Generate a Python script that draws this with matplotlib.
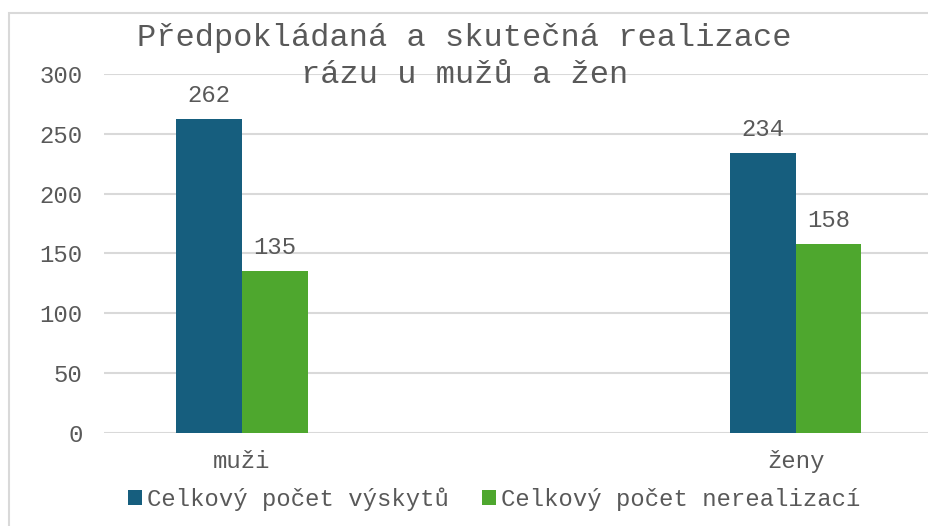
import matplotlib
matplotlib.use("Agg")
import matplotlib.pyplot as plt
from matplotlib.patches import Rectangle
import numpy as np

# data
categories = ["muži", "ženy"]
series_names = ["Celkový počet výskytů", "Celkový počet nerealizací"]
vyskyty = [262, 234]
nerealizace = [135, 158]
y_ticks = [0, 50, 100, 150, 200, 250, 300]
title_lines = ["Předpokládaná a skutečná realizace", "rázu u mužů a žen"]

colors = ["#165e7e", "#4ea72e"]
text_color = "#595959"
grid_color = "#d9d9d9"
fs = 17.2

plt.rcParams["font.family"] = ["Liberation Mono", "DejaVu Sans Mono"]

W, H = 929, 526
fig = plt.figure(figsize=(W / 100, H / 100), dpi=100)

# chart border (right and bottom fall outside the picture)
fig.patches.append(Rectangle((9 / W, -0.1), 1.2, 1 - 13 / H + 0.1,
                             transform=fig.transFigure, fill=False,
                             edgecolor="#d9d9d9", linewidth=1.5))

ax = fig.add_axes([104 / W, 1 - 433 / H, 825 / W, 359 / H])

x = np.arange(len(categories))
bw = 0.119
b1 = ax.bar(x - bw / 2, vyskyty, bw, color=colors[0], label=series_names[0], zorder=3)
b2 = ax.bar(x + bw / 2, nerealizace, bw, color=colors[1], label=series_names[1], zorder=3)

for bars in (b1, b2):
    for rect in bars:
        h = rect.get_height()
        ax.annotate(str(h), (rect.get_x() + rect.get_width() / 2, h),
                    xytext=(0, 17), textcoords="offset points",
                    ha="center", va="center", fontsize=fs, color=text_color)

ax.set_xlim(-0.2493, 1.241)
ax.set_ylim(0, 300)
ax.set_yticks(y_ticks)
ax.set_xticks(x)
ax.set_xticklabels(categories)
ax.tick_params(axis="both", length=0, labelsize=fs, colors=text_color)
ax.tick_params(axis="y", pad=15.5)
ax.tick_params(axis="x", pad=12)
ax.grid(axis="y", color=grid_color, linewidth=1.5, zorder=0)
for s in ax.spines.values():
    s.set_visible(False)

# title, one text per line
for line, ypix in zip(title_lines, [38, 75]):
    fig.text(464.5 / W, 1 - ypix / H, line, ha="center", va="center",
             fontsize=23, color=text_color)

fig.legend(loc="center", bbox_to_anchor=(494 / W, 1 - 499 / H), ncol=2,
           frameon=False, fontsize=fs, labelcolor=text_color,
           handlelength=0.6, handleheight=0.6, handletextpad=0.2,
           columnspacing=1.4, borderaxespad=0, borderpad=0)

fig.savefig("out.png", dpi=100)
